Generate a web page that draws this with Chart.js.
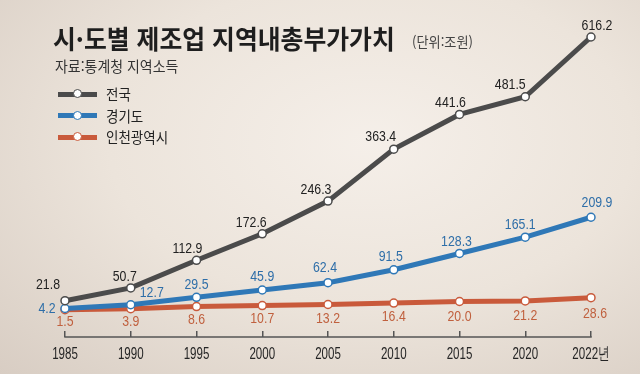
<!DOCTYPE html>
<html lang="ko">
<head>
<meta charset="utf-8">
<script src="https://cdn.jsdelivr.net/npm/chart.js@4"></script>
<style>
  html, body { margin: 0; padding: 0; }
  body {
    width: 640px; height: 374px; position: relative; overflow: hidden;
    background: radial-gradient(ellipse at 58% 38%, #f5efe9 0%, #ece4db 50%, #d8cdc3 100%);
    font-family: "Noto Sans CJK KR", "Noto Sans", sans-serif;
  }
  canvas { position: absolute; left: 0; top: 0; }
  .txt { position: absolute; white-space: nowrap; transform-origin: left center; }
  #title { left: 53px; top: 19px; font-size: 26px; font-weight: 700; color: #1e1e1e; transform: scaleX(0.955); }
  #unit { left: 412px; top: 31px; font-size: 14px; color: #444; transform: scaleX(0.94); }
  #source { left: 55px; top: 55px; font-size: 15px; color: #333; transform: scaleX(0.93); }
  .leg { position: absolute; left: 58px; width: 39px; height: 5px; }
  .leg i { position: absolute; left: 15px; top: -2.5px; width: 7px; height: 7px; border-radius: 50%; background: #fff; border: 1.5px solid; }
  .legtxt { position: absolute; left: 106px; font-size: 15px; color: #222; transform: scaleX(0.9); transform-origin: left center; }
</style>
</head>
<body>
<canvas id="chart" width="640" height="374"></canvas>
<div class="txt" id="title">시·도별 제조업 지역내총부가가치</div>
<div class="txt" id="unit">(단위:조원)</div>
<div class="txt" id="source">자료:통계청 지역소득</div>
<div id="legend"></div>
<script>
// ----- Data -----
const years = ["1985", "1990", "1995", "2000", "2005", "2010", "2015", "2020", "2022년"];
const seriesNames = ["전국", "경기도", "인천광역시"];
const national = [21.8, 50.7, 112.9, 172.6, 246.3, 363.4, 441.6, 481.5, 616.2];
const gyeonggi = [4.2, 12.7, 29.5, 45.9, 62.4, 91.5, 128.3, 165.1, 209.9];
const incheon = [1.5, 3.9, 8.6, 10.7, 13.2, 16.4, 20.0, 21.2, 28.6];

// ----- Styles -----
const lineColors = ["#4b4b4b", "#2f78b7", "#c95a3b"];
const labelColors = ["#222222", "#2e6ea8", "#c0603e"];
const numFont = '"Liberation Sans", Arial, sans-serif';

// label offsets from each point (dx, dy)
const labelOffsets = [
  [[-17, -16], [-6, -11], [-9, -11], [-11, -11], [-12, -11], [-13, -12], [-9, -12], [-15, -12], [6, -11]],
  [[-18, 0], [21, -12], [0, -12], [0, -13], [-3, -15], [-3, -13], [-3, -12], [-5, -12], [6, -14]],
  [[0, 12], [0, 13], [0, 13], [0, 13], [0, 14], [0, 14], [0, 15], [0, 15], [4, 16]]
];

// ----- Legend -----
const legend = document.getElementById("legend");
const legendTop = [94, 115.5, 137];
seriesNames.forEach((name, i) => {
  const bar = document.createElement("div");
  bar.className = "leg";
  bar.style.top = (legendTop[i] - 2.5) + "px";
  bar.style.background = lineColors[i];
  const dot = document.createElement("i");
  dot.style.borderColor = lineColors[i];
  bar.appendChild(dot);
  legend.appendChild(bar);

  const t = document.createElement("div");
  t.className = "legtxt";
  t.textContent = name;
  t.style.top = (legendTop[i] - 11) + "px";
  legend.appendChild(t);
});

// condensed text: squeeze horizontally around (x, y)
function narrowText(ctx, text, x, y, squeeze) {
  ctx.save();
  ctx.translate(x, y);
  ctx.scale(squeeze, 1);
  ctx.fillText(text, 0, 0);
  ctx.restore();
}

// ----- Plugins -----
const pointLabels = {
  id: "pointLabels",
  afterDatasetsDraw(chart) {
    const ctx = chart.ctx;
    ctx.save();
    ctx.font = "15px " + numFont;
    ctx.textAlign = "center";
    ctx.textBaseline = "middle";
    chart.data.datasets.forEach((ds, di) => {
      const meta = chart.getDatasetMeta(di);
      ctx.fillStyle = labelColors[di];
      meta.data.forEach((pt, i) => {
        const off = labelOffsets[di][i];
        narrowText(ctx, ds.data[i].toFixed(1), pt.x + off[0], pt.y + off[1], 0.82);
      });
    });
    ctx.restore();
  }
};

// axis base line and condensed year labels, placed by the x scale
const yearAxis = {
  id: "yearAxis",
  afterDraw(chart) {
    const x = chart.scales.x;
    const ctx = chart.ctx;
    const y = chart.chartArea.bottom + 6;
    ctx.save();
    ctx.strokeStyle = "#555";
    ctx.lineWidth = 1.5;
    ctx.beginPath();
    ctx.moveTo(x.getPixelForTick(0) - 0.75, y);
    ctx.lineTo(x.getPixelForTick(x.ticks.length - 1) + 0.75, y);
    ctx.stroke();

    ctx.font = "17px " + numFont;
    ctx.fillStyle = "#252525";
    ctx.textAlign = "center";
    ctx.textBaseline = "middle";
    x.ticks.forEach((t, i) => {
      narrowText(ctx, x.getLabelForValue(t.value), x.getPixelForTick(i), y + 17, 0.68);
    });
    ctx.restore();
  }
};

function makeSet(label, data, i) {
  return {
    label: label,
    data: data,
    borderColor: lineColors[i],
    borderWidth: 5,
    pointRadius: 4,
    pointBackgroundColor: "#fff",
    pointBorderColor: lineColors[i],
    pointBorderWidth: 1.5,
    tension: 0,
    clip: false
  };
}

new Chart(document.getElementById("chart"), {
  type: "line",
  data: {
    labels: years,
    datasets: [
      makeSet(seriesNames[0], national, 0),
      makeSet(seriesNames[1], gyeonggi, 1),
      makeSet(seriesNames[2], incheon, 2)
    ]
  },
  options: {
    responsive: false,
    animation: false,
    layout: { padding: { left: 65, right: 49, top: 37, bottom: 0 } },
    plugins: { legend: { display: false }, tooltip: { enabled: false } },
    scales: {
      x: {
        offset: false,
        border: { display: false },
        grid: { drawOnChartArea: false, drawTicks: true, tickLength: 6, color: "#555", lineWidth: 1.5 },
        ticks: { display: false, autoSkip: false },
        afterFit: s => { s.height = 43; }
      },
      y: {
        display: false,
        min: -46.5,
        max: 616.2
      }
    }
  },
  plugins: [pointLabels, yearAxis]
});
</script>
</body>
</html>
